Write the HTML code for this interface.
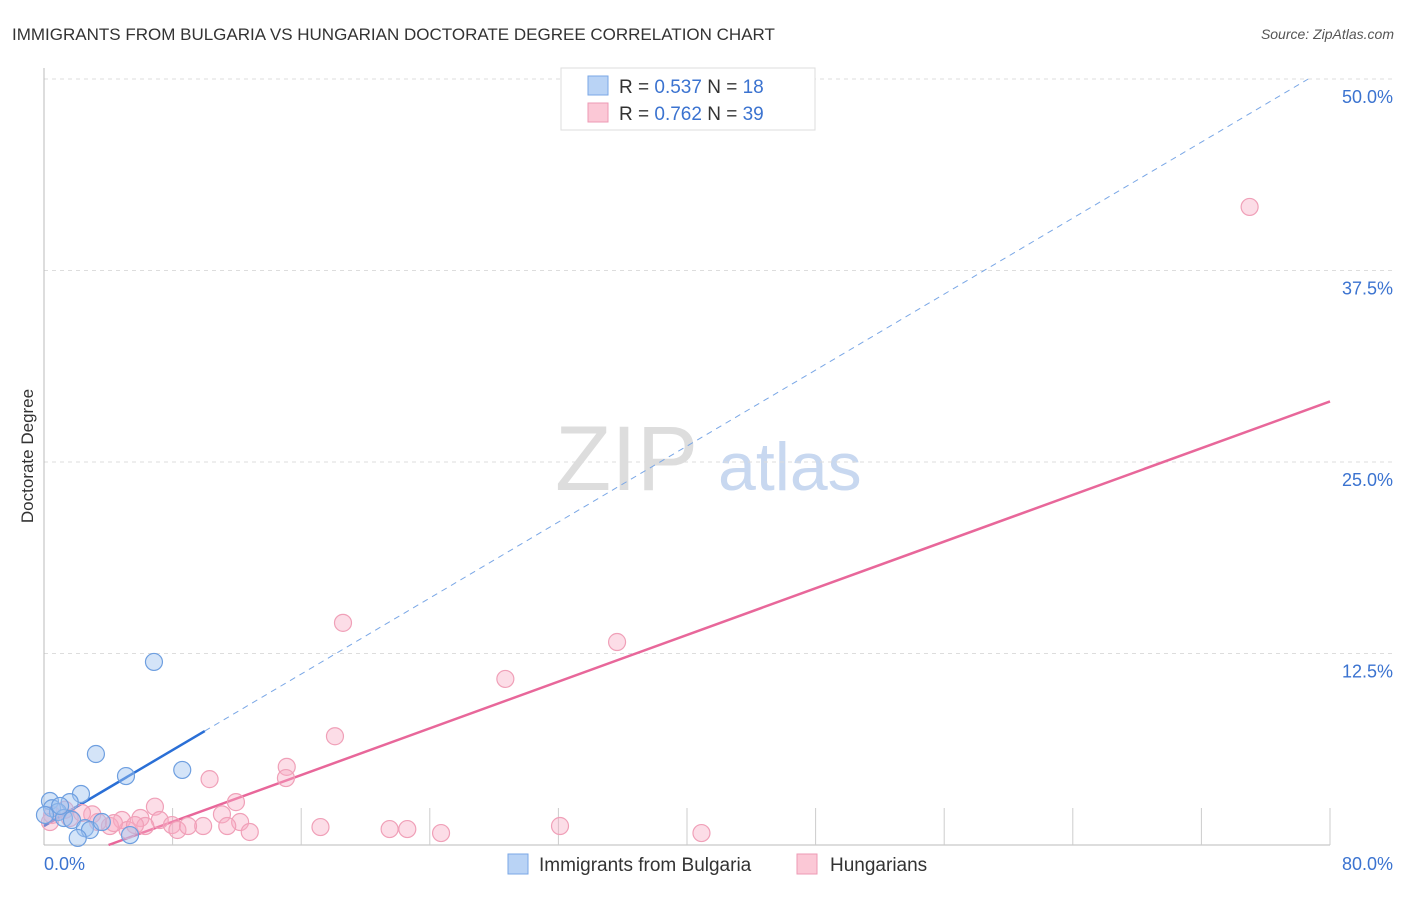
<!DOCTYPE html>
<html><head><meta charset="utf-8"><style>
body{margin:0;background:#fff;font-family:"Liberation Sans",sans-serif;}
svg text{font-family:"Liberation Sans",sans-serif;}
</style></head><body>
<svg id="chart" width="1406" height="892" viewBox="0 0 1406 892" xmlns="http://www.w3.org/2000/svg">
<text x="12" y="40" font-size="17" fill="#333">IMMIGRANTS FROM BULGARIA VS HUNGARIAN DOCTORATE DEGREE CORRELATION CHART</text>
<text x="1394" y="39" font-size="14" fill="#555" font-style="italic" text-anchor="end">Source: ZipAtlas.com</text>
<g>
<text x="555" y="490" font-size="92" fill="#ddd" font-family="Liberation Serif,serif">ZIP</text>
<text x="718" y="490" font-size="68" fill="#c8d8f0">atlas</text>
</g>
<g id="grid"></g>
<g id="axes"></g>
<g id="lines"></g>
<g id="points"></g>
<text transform="translate(33,456) rotate(-90)" font-size="17" fill="#333" text-anchor="middle">Doctorate Degree</text>
<g>
<rect x="561" y="68" width="254" height="62" fill="#fff" stroke="#ddd"/>
<rect x="588" y="76" width="20" height="19" fill="#b9d3f5" stroke="#7aa7e6"/>
<rect x="588" y="103" width="20" height="19" fill="#fbc8d6" stroke="#ee9ab4"/>
<text x="619" y="93" font-size="19" fill="#333">R = <tspan fill="#3b73d0">0.537</tspan>   N =  <tspan fill="#3b73d0">18</tspan></text>
<text x="619" y="120" font-size="19" fill="#333">R = <tspan fill="#3b73d0">0.762</tspan>   N = <tspan fill="#3b73d0">39</tspan></text>
</g>
<g>
<rect x="508" y="854" width="20" height="20" fill="#b9d3f5" stroke="#7aa7e6"/>
<text x="539" y="871" font-size="19" fill="#333">Immigrants from Bulgaria</text>
<rect x="797" y="854" width="20" height="20" fill="#fbc8d6" stroke="#ee9ab4"/>
<text x="830" y="871" font-size="19" fill="#333">Hungarians</text>
</g>
</svg>
<script>
const yTicks=[12.5,25,37.5,50];
const yTickLabels=["12.5%","25.0%","37.5%","50.0%"];
const xTicks=[8,16,24,32,40,48,56,64,72,80];
const xTickLabels=["0.0%","80.0%"];
const bulgariaX=[6.84,3.23,5.1,8.6,2.3,0.37,1.6,0.5,0.87,1.24,1.74,2.55,2.86,3.6,2.1,5.35,0.06,1.0];
const bulgariaY=[11.95,5.94,4.5,4.9,3.33,2.87,2.8,2.4,2.15,1.76,1.63,1.1,0.98,1.5,0.46,0.65,1.96,2.55];
const hungX=[75.0,18.6,35.65,28.7,18.1,15.1,15.05,10.3,11.94,6.9,11.07,12.2,9.9,7.2,6.0,4.85,4.1,3.0,1.3,0.5,0.37,5.2,6.3,7.96,8.3,8.96,11.4,12.8,17.2,21.5,22.6,24.7,32.1,40.9,3.36,4.35,1.6,2.36,5.66];
const hungY=[41.65,14.5,13.25,10.84,7.1,5.1,4.37,4.3,2.8,2.5,2.0,1.5,1.24,1.63,1.76,1.63,1.24,2.0,2.3,1.96,1.5,0.98,1.24,1.3,0.98,1.24,1.24,0.85,1.17,1.04,1.04,0.78,1.24,0.78,1.5,1.43,1.76,2.09,1.3];
const blueLine=[1.24,0.62];
const pinkLine=[-1.53,0.381];
const NS="http://www.w3.org/2000/svg";
const X=v=>44+v/80*1286, Y=v=>845-v/50*766;
function mk(p,t,a){const e=document.createElementNS(NS,t);for(const k in a)e.setAttribute(k,a[k]);p.appendChild(e);return e;}
const grid=document.getElementById('grid'),axes=document.getElementById('axes'),lines=document.getElementById('lines'),pts=document.getElementById('points');
yTicks.forEach((v,i)=>{
 const l=mk(grid,'line',{x1:44,x2:1394,y1:Y(v),y2:Y(v),stroke:'#ddd','stroke-dasharray':'4,4'});
 
 
 const t=mk(axes,'text',{x:1393,y:Y(v)+24,'font-size':18,fill:'#3b73d0','text-anchor':'end'});t.textContent=yTickLabels[i];
 
 
});
mk(axes,'line',{x1:44,x2:44,y1:68,y2:845,stroke:'#bbb'});
mk(axes,'line',{x1:44,x2:1330,y1:845,y2:845,stroke:'#bbb'});
xTicks.forEach(v=>{const t=mk(axes,'line',{x1:X(v),x2:X(v),y1:808,y2:845,stroke:'#ccc'});
 
 });
const xl0=mk(axes,'text',{x:44,y:870,'font-size':18,fill:'#3b73d0'});xl0.textContent=xTickLabels[0];


const xl1=mk(axes,'text',{x:1393,y:870,'font-size':18,fill:'#3b73d0','text-anchor':'end'});xl1.textContent=xTickLabels[1];


hungX.forEach((x,i)=>{const c=mk(pts,'circle',{cx:X(x),cy:Y(hungY[i]),r:8.5,fill:'rgba(248,170,195,0.4)',stroke:'#f0a0b8','stroke-width':1.2});
 
 });
bulgariaX.forEach((x,i)=>{const c=mk(pts,'circle',{cx:X(x),cy:Y(bulgariaY[i]),r:8.5,fill:'rgba(160,195,240,0.45)',stroke:'#6e9fe0','stroke-width':1.2});
 
 });
const bEnd=(50-blueLine[0])/blueLine[1];
const bd=mk(lines,'line',{x1:X(10),y1:Y(blueLine[0]+blueLine[1]*10),x2:X(bEnd),y2:Y(50),stroke:'#7aa7e6','stroke-width':1,'stroke-dasharray':'6,5'});


const bs=mk(lines,'line',{x1:X(0),y1:Y(blueLine[0]),x2:X(10),y2:Y(blueLine[0]+blueLine[1]*10),stroke:'#2a6fd6','stroke-width':2.5});


const p0=-pinkLine[0]/pinkLine[1];
const ps=mk(lines,'line',{x1:X(p0),y1:Y(0),x2:X(80),y2:Y(pinkLine[0]+pinkLine[1]*80),stroke:'#e8679a','stroke-width':2.5});


</script>
</body></html>
